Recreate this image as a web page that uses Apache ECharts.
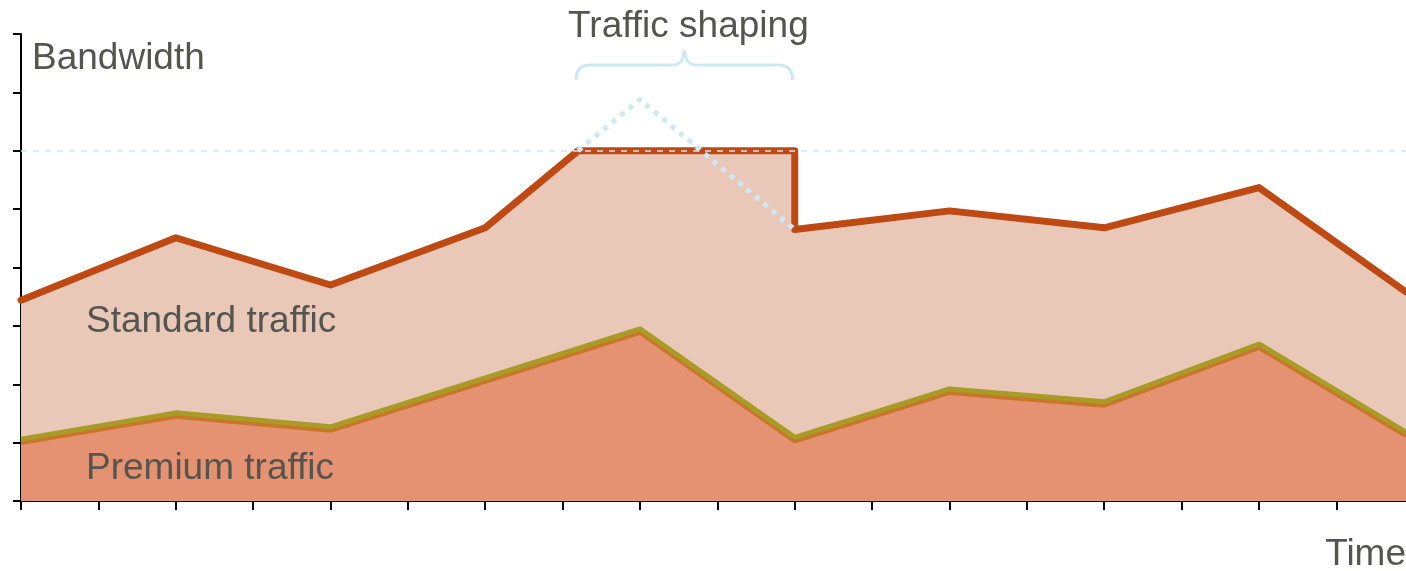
<!DOCTYPE html>
<html><head><meta charset="utf-8">
<script src="https://cdn.jsdelivr.net/npm/echarts@6/dist/echarts.min.js"></script>
<style>html,body{margin:0;padding:0;background:#fff}#c{width:1406px;height:571px}</style>
</head><body><div id="c"></div>
<script>
// ---- data ----
const timeTicks = [0,1,2,3,4,5,6,7,8,9,10,11,12,13,14,15,16,17];
const bandwidthTicks = [0,1,2,3,4,5,6,7,8];
const standardX = [0, 2, 4, 6, 7.2, 10, 10, 12, 14, 16, 17.9];
const standardY = [3.44, 4.51, 3.70, 4.68, 6.0, 6.0, 4.65, 4.97, 4.68, 5.37, 3.58];
const premiumX = [0, 2, 4, 6, 8, 10, 12, 14, 16, 17.9];
const premiumY = [1.06, 1.51, 1.27, 2.11, 2.95, 1.09, 1.92, 1.70, 2.69, 1.18];
const unshapedX = [7.2, 8, 10];
const unshapedY = [6.0, 6.88, 4.65];
const shapingLimit = 6;
const shapingRange = [7.2, 10];
const labels = {yName:'Bandwidth', xName:'Time', standard:'Standard traffic', premium:'Premium traffic', shaping:'Traffic shaping'};

const zip = (xs, ys) => xs.map((x, i) => [x, ys[i]]);
const FONT = 'Liberation Sans, Arial, sans-serif';
const TXT = '#55554f';

const chart = echarts.init(document.getElementById('c'), null, {renderer:'canvas'});
chart.setOption({
  animation:false,
  grid:{left:21, right:0, top:34, bottom:70, containLabel:false},
  xAxis:{type:'value', min:0, max:17.9, interval:1,
    axisLine:{show:true, onZero:false, lineStyle:{color:'#000', width:2}},
    axisTick:{show:true, length:9, customValues:timeTicks, lineStyle:{color:'#000', width:2}},
    axisLabel:{show:false}, splitLine:{show:false}},
  yAxis:{type:'value', min:bandwidthTicks[0], max:bandwidthTicks[bandwidthTicks.length-1], interval:1,
    axisLine:{show:true, lineStyle:{color:'#000', width:2}},
    axisTick:{show:true, length:8, lineStyle:{color:'#000', width:2}},
    axisLabel:{show:false}, splitLine:{show:false}},
  series:[
    {type:'line', name:'standard', data:zip(standardX, standardY), symbol:'none', z:2,
      lineStyle:{color:'#bf4913', width:7, join:'round', cap:'round'},
      areaStyle:{color:'#e9c8b8', opacity:1}},
    {type:'line', name:'premium', data:zip(premiumX, premiumY), symbol:'none', z:3,
      lineStyle:{color:'#a89c26', width:5, shadowColor:'#c9762a', shadowOffsetY:3.5, shadowBlur:0},
      areaStyle:{color:'#e59272', opacity:1}},
    {type:'line', name:'unshaped', data:zip(unshapedX, unshapedY), symbol:'none', z:4,
      lineStyle:{color:'#cde9f7', width:5, type:[5,6], cap:'butt'},
      markLine:{silent:true, symbol:'none', label:{show:false},
        lineStyle:{color:'#cfe5f0', width:1.5, type:[6,6]},
        data:[{yAxis:shapingLimit}]}}
  ]
});

const p1 = chart.convertToPixel({gridIndex:0}, [shapingRange[0], shapingLimit]);
const p2 = chart.convertToPixel({gridIndex:0}, [shapingRange[1], shapingLimit]);
const xa = p1[0] - 2, xb = p2[0] - 2, xm = (xa + xb) / 2;
const yb = 80, yh = 65, yt = 50, r = 14;
const BR = {stroke:'#cbe8f6', lineWidth:3, fill:null};
const curve = (x1,y1,cx,cy,x2,y2) => ({type:'bezierCurve', z:100, shape:{x1,y1,cpx1:cx,cpy1:cy,x2,y2}, style:BR});
const seg = (x1,y1,x2,y2) => ({type:'line', z:100, shape:{x1,y1,x2,y2}, style:BR});

const txt = (x, y, text, align) => ({type:'text', x, y, z:100,
  style:{text, fill:TXT, font:`37px ${FONT}`, align:align||'left', verticalAlign:'middle'}});

chart.setOption({graphic:[
  txt(32, 59, labels.yName),
  txt(1406, 555, labels.xName, 'right'),
  txt(86, 322, labels.standard),
  txt(86, 469, labels.premium),
  txt(xm + 4, 27, labels.shaping, 'center'),
  curve(xa, yb, xa, yh, xa + r, yh),
  seg(xa + r, yh, xm - 12, yh),
  curve(xm - 12, yh, xm - 1, yh, xm, yt),
  curve(xm, yt, xm + 1, yh, xm + 12, yh),
  seg(xm + 12, yh, xb - r, yh),
  curve(xb - r, yh, xb, yh, xb, yb)
]});
</script></body></html>
